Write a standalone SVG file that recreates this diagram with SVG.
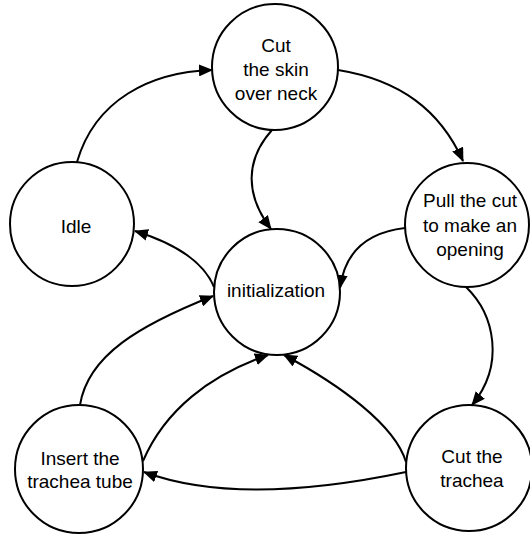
<svg xmlns="http://www.w3.org/2000/svg" width="530" height="535" viewBox="0 0 530 535">
<style>
.n{fill:#fff;stroke:#000;stroke-width:2}
.t{font-family:"Liberation Sans",Arial,sans-serif;font-size:19px;fill:#000;text-anchor:middle}
.c{fill:none;stroke:#000;stroke-width:2;marker-end:url(#ah)}
</style>
<defs>
<marker id="ah" markerUnits="userSpaceOnUse" markerWidth="14" markerHeight="12" refX="13" refY="6" orient="auto">
<path d="M0,0 L14,6 L0,12 z" fill="#000"/>
</marker>
</defs>
<rect width="530" height="535" fill="#fff"/>
<g id="connectors">
<path class="c" d="M77,162 C95,100 150,72 212,70"/>
<path class="c" d="M338,70 C400,80 440,110 463,161"/>
<path class="c" d="M272,130 C245,160 245,195 271,229"/>
<path class="c" d="M405,228 C370,232 345,250 340,288"/>
<path class="c" d="M214,287 C205,265 180,245 135,231"/>
<path class="c" d="M80,405 C88,355 140,325 213,296"/>
<path class="c" d="M406,462 C395,425 340,385 284,355"/>
<path class="c" d="M143,461 C165,410 210,375 268,355"/>
<path class="c" d="M406,472 C320,490 220,500 144,472"/>
<path class="c" d="M466,287 C495,315 505,365 472,405"/>
</g>
<g id="cut-skin">
<circle class="n" cx="275" cy="67" r="63"/>
<text class="t" x="276" y="52">Cut</text>
<text class="t" x="276" y="76">the skin</text>
<text class="t" x="276" y="100">over neck</text>
</g>
<g id="idle">
<circle class="n" cx="72" cy="224" r="62"/>
<text class="t" x="76" y="233">Idle</text>
</g>
<g id="initialization">
<circle class="n" cx="277" cy="292" r="63"/>
<text class="t" x="276" y="297">initialization</text>
</g>
<g id="pull-cut">
<circle class="n" cx="467" cy="225" r="62"/>
<text class="t" x="470" y="207">Pull the cut</text>
<text class="t" x="470" y="232">to make an</text>
<text class="t" x="470" y="256">opening</text>
</g>
<g id="insert-tube">
<circle class="n" cx="79" cy="469" r="64"/>
<text class="t" x="80" y="465">Insert the</text>
<text class="t" x="80" y="488">trachea tube</text>
</g>
<g id="cut-trachea">
<circle class="n" cx="469" cy="468" r="63"/>
<text class="t" x="472" y="463">Cut the</text>
<text class="t" x="472" y="487">trachea</text>
</g>
</svg>
